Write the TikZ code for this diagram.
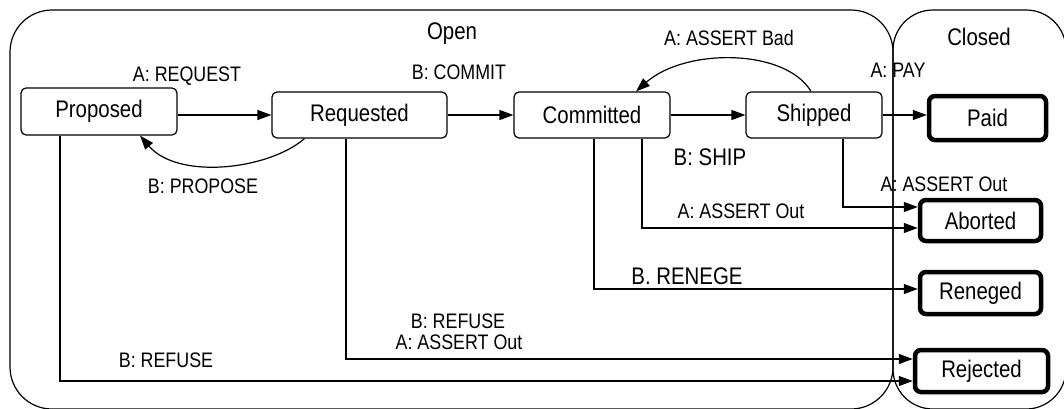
\documentclass[tikz,border=0pt]{standalone}
\usepackage{fontspec}
\setmainfont[FakeStretch=0.85]{Liberation Sans}
\usetikzlibrary{arrows.meta}
\begin{document}
\begin{tikzpicture}[x=1pt,y=-1pt,
  region/.style={draw, line width=1.2pt, inner sep=0pt},
  state/.style={draw, rounded corners=5pt, line width=1.2pt, inner sep=0pt,
    font=\fontsize{24}{28}\selectfont},
  final/.style={draw, rounded corners=6pt, line width=4.5pt, inner sep=0pt,
    font=\fontsize{24}{28}\selectfont},
  lbl/.style={inner sep=0pt, font=\fontsize{21}{25}\selectfont},
  biglbl/.style={inner sep=0pt, font=\fontsize{24}{28}\selectfont},
  trans/.style={line width=1.2pt, -{Triangle[length=14pt,width=10pt]}}]
\useasboundingbox (0,0) rectangle (1064,408);

% regions
\node[region, rounded corners=42pt, minimum width=883pt, minimum height=399pt] (open) at (451.5,209.5) {};
\node[region, rounded corners=40pt, minimum width=173pt, minimum height=399pt] (closed) at (979.5,209.5) {};
\node[biglbl] (openlbl) at (452,34) {Open};
\node[biglbl] (closedlbl) at (979,37) {Closed};

% states
\node[state, minimum width=156pt, minimum height=47pt] (prop) at (99,111.5) {Proposed};
\node[state, minimum width=175pt, minimum height=46pt] (req) at (359.5,115) {Requested};
\node[state, minimum width=156pt, minimum height=46pt] (com) at (592,115) {Committed};
\node[state, minimum width=136pt, minimum height=46pt] (ship) at (814,115) {Shipped};

\node[final, minimum width=117pt, minimum height=44pt] (paid) at (987.5,118) {Paid};
\node[final, minimum width=121pt, minimum height=41pt] (abort) at (980.5,220.5) {Aborted};
\node[final, minimum width=121pt, minimum height=42pt] (reneg) at (980.5,293) {Reneged};
\node[final, minimum width=133pt, minimum height=42pt] (rej) at (981.5,371) {Rejected};

% main line of transitions
\draw[trans] (prop.east |- req.west) -- (req.west);
\draw[trans] (req.east) -- (com.west);
\draw[trans] (com.east) -- (ship.west);
\draw[trans] (ship.east) -- (paid.west |- ship.east);

% backward transitions
\draw[trans] ([xshift=-55pt]req.south) .. controls (268,170) and (178,180) .. ([xshift=41pt]prop.south);
\draw[trans] ([xshift=-3pt]ship.north) .. controls (785,48) and (685,48) .. ([xshift=44pt]com.north);

% transitions into closed states
\draw[trans] ([xshift=29pt]ship.south) |- ([yshift=13.5pt]abort.west);
\draw[trans] ([xshift=50pt]com.south) |- ([yshift=-7.5pt]abort.west);
\draw[trans] ([xshift=2pt]com.south) |- ([yshift=4pt]reneg.west);
\draw[trans] ([xshift=-13.5pt]req.south) |- ([yshift=12pt]rej.west);
\draw[trans] ([xshift=-39pt]prop.south) |- ([yshift=-10pt]rej.west);

% transition labels
\node[lbl] (lreq) at (187,76) {A: REQUEST};
\node[lbl] (lprop) at (203,186) {B: PROPOSE};
\node[lbl] (lcom) at (459,72) {B: COMMIT};
\node[lbl] (lbad) at (729,38) {A: ASSERT Bad};
\node[lbl] (lpay) at (898,70) {A: PAY};
\node[biglbl] (lship) at (710,157) {B: SHIP};
\node[lbl] (lout1) at (741,211) {A: ASSERT Out};
\node[lbl] (lout2) at (944,184) {A: ASSERT Out};
\node[biglbl] (lren) at (687,276) {B. RENEGE};
\node[lbl] (lref1) at (458,321) {B: REFUSE};
\node[lbl] (lout3) at (459,342) {A: ASSERT Out};
\node[lbl] (lref2) at (166,360) {B: REFUSE};
\end{tikzpicture}
\end{document}
